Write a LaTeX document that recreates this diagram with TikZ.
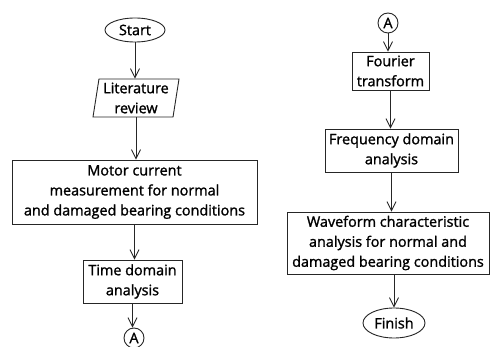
\documentclass[tikz,border=0pt]{standalone}
\usepackage{fontspec}
\setmainfont{Open Sans}[FakeBold=1.4]
\usetikzlibrary{shapes.geometric,arrows.meta}
\begin{document}
\begin{tikzpicture}[x=1pt,y=-1pt,
  base/.style={draw=black!85,line width=0.9pt,align=center,inner sep=0pt,
    font=\fontsize{14.4}{20}\selectfont},
  procbox/.style={base,rectangle},
  term/.style={base,ellipse},
  io/.style={base,trapezium,trapezium left angle=79,trapezium right angle=101,trapezium stretches body},
  conn/.style={base,circle},
  flow/.style={draw=black!85,line width=0.9pt,-{Straight Barb[length=9pt,width=9pt,line width=0.9pt]}}]
\useasboundingbox (0,0) rectangle (490,347);
\node[term,minimum width=60,minimum height=24] (start) at (135,30) {Start};
\node[io,minimum width=86,minimum height=38] (lit) at (136,98) {Literature\\review};
\node[procbox,minimum width=245,minimum height=64] (motor) at (134.5,192) {Motor current\\measurement for normal\\and damaged bearing conditions};
\node[procbox,minimum width=99,minimum height=43] (time) at (132.5,281.5) {Time domain\\analysis};
\node[conn,minimum size=20] (a1) at (134,338) {A};
\node[conn,minimum size=20] (a2) at (388,23) {A};
\node[procbox,minimum width=77,minimum height=38] (four) at (390.5,71) {Fourier\\transform};
\node[procbox,minimum width=133,minimum height=43] (freq) at (391.5,150.5) {Frequency domain\\analysis};
\node[procbox,minimum width=202,minimum height=62] (wave) at (388,243) {Waveform characteristic\\analysis for normal and\\damaged bearing conditions};
\node[term,minimum width=62,minimum height=30] (fin) at (394,323) {Finish};
\draw[flow] (start.south) -- (start.south |- lit.north);
\draw[flow] (lit.south) -- (lit.south |- motor.north);
\draw[flow] (motor.south) -- (motor.south |- time.north);
\draw[flow] (time.south) -- (time.south |- a1.north);
\draw[flow] (a2.south) -- (a2.south |- four.north);
\draw[flow] (four.south) -- (four.south |- freq.north);
\draw[flow] (freq.south) -- (freq.south |- wave.north);
\draw[flow] (wave.south -| fin.north) -- (fin.north);
\end{tikzpicture}
\end{document}
